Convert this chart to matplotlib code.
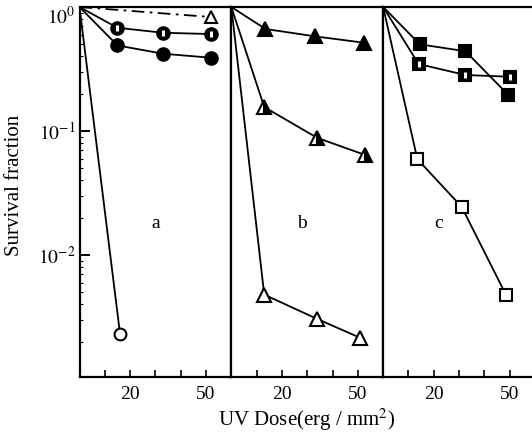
import matplotlib
matplotlib.use("Agg")
import matplotlib.pyplot as plt
import matplotlib.transforms as mtransforms

plt.rcParams['font.family'] = ['Liberation Serif', 'DejaVu Serif']
plt.rcParams['mathtext.fontset'] = 'stix'

# every curve starts at dose 0, survival 1
start_dose = 0
start_surv = 1.0

# panel a
a_dose = [15, 33, 52]
a_half_circle = [0.68, 0.62, 0.605]
a_filled_circle = [0.49, 0.42, 0.39]
a_open_dose = [16]
a_open_circle = [0.00233]
a_tri_dose = [52]
a_open_tri = [0.83]

# panel b
b_filled_dose = [13.5, 33, 52.5]
b_filled_tri = [0.665, 0.58, 0.515]
b_half_dose = [13, 34, 53]
b_half_tri = [0.156, 0.088, 0.064]
b_open_dose = [13, 34, 51]
b_open_tri = [0.0048, 0.00305, 0.00215]

# panel c
c_filled_dose = [14.5, 32.5, 49.5]
c_filled_sq = [0.50, 0.44, 0.195]
c_half_dose = [14, 32.5, 50]
c_half_sq = [0.347, 0.283, 0.274]
c_open_dose = [13.5, 31, 48.5]
c_open_sq = [0.0594, 0.0245, 0.0048]

panel_names = ['a', 'b', 'c']
label_pos = [(30, 0.018), (28, 0.018), (22, 0.018)]
x_ticks = [10, 20, 30, 40, 50]
x_ticklabels = ['', '20', '', '', '50']
y_ticks = [1, 0.1, 0.01]
y_ticklabels = [r'$10^{0}$', r'$10^{-1}$', r'$10^{-2}$']


def curve(ax, x, y, marker, face, ls='-', ms=8.5, fillstyle='full'):
    xs = [start_dose] + list(x)
    ys = [start_surv] + list(y)
    ax.plot(xs, ys, ls=ls, color='black', lw=1.3, marker=marker, ms=ms,
            mfc=face, mec='black', mew=1.5, markevery=list(range(1, len(xs))),
            fillstyle=fillstyle, markerfacecoloralt='white', zorder=3)


def slit(ax, x, y):
    # white vertical stripe in the half-filled markers
    ax.plot(x, y, ls='none', marker='|', ms=5, mew=2.2, mec='white', zorder=4)


fig = plt.figure(figsize=(5.32, 4.36), dpi=100)
w = (535 - 79.5) / 532 / 3
axes = []
for i in range(3):
    ax = fig.add_axes([79.5 / 532 + i * w, 1 - 376.5 / 436, w, (376.5 - 7) / 436])
    axes.append(ax)

ax_a, ax_b, ax_c = axes

curve(ax_a, a_tri_dose, a_open_tri, '^', 'white', ls=(0, (7, 3, 1.5, 3)), ms=8)
curve(ax_a, a_dose, a_half_circle, 'o', 'black', ms=9)
slit(ax_a, a_dose, a_half_circle)
curve(ax_a, a_dose, a_filled_circle, 'o', 'black', ms=9)
curve(ax_a, a_open_dose, a_open_circle, 'o', 'white')

curve(ax_b, b_filled_dose, b_filled_tri, '^', 'black', ms=9.5)
curve(ax_b, b_half_dose, b_half_tri, '^', 'black', ms=9.5, fillstyle='right')
curve(ax_b, b_open_dose, b_open_tri, '^', 'white', ms=9.5)

curve(ax_c, c_filled_dose, c_filled_sq, 's', 'black', ms=8)
curve(ax_c, c_half_dose, c_half_sq, 's', 'black', ms=8)
slit(ax_c, c_half_dose, c_half_sq)
curve(ax_c, c_open_dose, c_open_sq, 's', 'white', ms=8)

for i, ax in enumerate(axes):
    ax.set_yscale('log')
    ax.set_xlim(0, 60)
    ax.set_ylim(1.05e-3, 1.0)
    for s in ax.spines.values():
        s.set_linewidth(1.6)
    ax.set_xticks(x_ticks)
    ax.set_xticklabels(x_ticklabels, fontsize=14)
    ax.tick_params(axis='x', direction='in', length=5, width=1.2, pad=7)
    ax.text(label_pos[i][0], label_pos[i][1], panel_names[i], fontsize=14,
            ha='center', va='center')
    if i == 0:
        ax.set_yticks(y_ticks)
        ax.set_yticklabels(y_ticklabels, fontsize=14)
        ax.tick_params(axis='y', which='major', direction='in', length=7, width=1.4, pad=3)
        ax.tick_params(axis='y', which='minor', direction='in', length=2, width=0.8)
    else:
        ax.set_yticks([])
        ax.minorticks_off()
        ax.set_xticks(x_ticks)
        ax.tick_params(axis='y', which='both', left=False, labelleft=False)

# top label sits a little below the frame in the original
top_label = ax_a.get_yticklabels()[0]
top_label.set_transform(top_label.get_transform() +
                        mtransforms.ScaledTranslation(0, -8 / 100, fig.dpi_scale_trans))

fig.text(15 / 532, 1 - 185 / 436, 'Survival fraction', rotation=90, fontsize=15,
         ha='center', va='center')
fig.text(307 / 532, 1 - 420 / 436, 'UV Dose(erg / mm$^{2}$)', fontsize=15,
         ha='center', va='center')

fig.savefig('out.png', dpi=100)
